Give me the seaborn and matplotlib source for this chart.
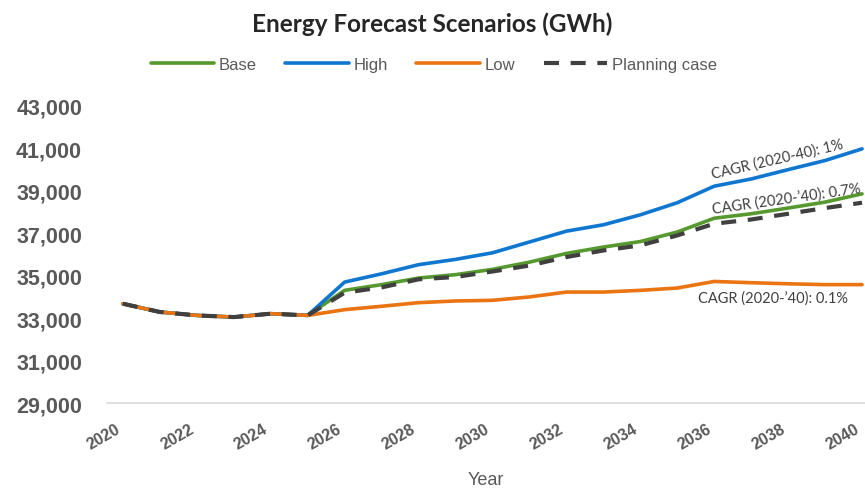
import pandas as pd
import matplotlib.pyplot as plt
import matplotlib.ticker as mticker
import matplotlib.transforms as mtransforms
import seaborn as sns

# Forecast years
years = list(range(2020, 2041))

# Energy forecasts (GWh)
base = [33680, 33290, 33130, 33050, 33210, 33130, 34310, 34580, 34890, 35050, 35300,
        35640, 36050, 36350, 36610, 37060, 37710, 37920, 38190, 38470, 38860]
high = [33680, 33290, 33130, 33050, 33210, 33130, 34700, 35090, 35520, 35770, 36080,
        36590, 37100, 37400, 37870, 38440, 39220, 39560, 40000, 40430, 40980]
low = [33680, 33290, 33130, 33050, 33210, 33130, 33400, 33560, 33730, 33810, 33840,
       34000, 34230, 34230, 34310, 34420, 34730, 34670, 34620, 34580, 34580]
planning = [33680, 33290, 33130, 33050, 33210, 33130, 34200, 34450, 34830, 34940, 35200,
            35480, 35880, 36190, 36430, 36900, 37450, 37650, 37920, 38190, 38440]

y_ticks = [29000, 31000, 33000, 35000, 37000, 39000, 41000, 43000]
x_ticks = list(range(2020, 2041, 2))

series_names = ['Base', 'High', 'Low', 'Planning case']
series_colors = ['#56992E', '#0F77CF', '#EB7412', '#404040']

# CAGR labels: text, anchor year, anchor value, rotation
cagr_labels = [
    ('CAGR (2020-40): 1%', 2037.7, 40520, 13),
    ('CAGR (2020-\u201940): 0.7%', 2037.95, 38640, 8),
    ('CAGR (2020-\u201940): 0.1%', 2037.6, 33990, 0),
]

df = pd.DataFrame({'Year': years, 'Base': base, 'High': high, 'Low': low,
                   'Planning case': planning})

sns.set_theme(style='white')
plt.rcParams['font.family'] = ['Liberation Sans', 'DejaVu Sans']

fig = plt.figure(figsize=(8.65, 4.89), dpi=100)
ax = fig.add_axes([0.1237, 0.1738, 0.8763, 0.6074])

for name, color in zip(series_names, series_colors):
    if name == 'Planning case':
        sns.lineplot(data=df, x='Year', y=name, ax=ax, color=color, linewidth=3.0,
                     label=name, dashes=False, linestyle=(0, (3.6, 2.8)), zorder=4)
    else:
        sns.lineplot(data=df, x='Year', y=name, ax=ax, color=color, linewidth=2.6,
                     label=name, zorder=3)

ax.set_xlim(2019.57, 2040.08)
ax.set_ylim(29000, 43000)
ax.set_yticks(y_ticks)
ax.set_xticks(x_ticks)
ax.yaxis.set_major_formatter(mticker.StrMethodFormatter('{x:,.0f}'))
ax.tick_params(axis='y', length=0, pad=18, labelsize=15.5, labelcolor='#595959')
ax.tick_params(axis='x', length=0, pad=13, labelsize=11.5, labelcolor='#595959')
for lbl in ax.get_yticklabels():
    lbl.set_fontweight('bold')
shift = mtransforms.ScaledTranslation(-8 / 100, 0, fig.dpi_scale_trans)
for lbl in ax.get_xticklabels():
    lbl.set_fontweight('bold')
    lbl.set_rotation(30)
    lbl.set_ha('right')
    lbl.set_va('top')
    lbl.set_rotation_mode('anchor')
    lbl.set_transform(lbl.get_transform() + shift)

for side in ['top', 'right', 'left']:
    ax.spines[side].set_visible(False)
ax.spines['bottom'].set_color('#D9D9D9')
ax.spines['bottom'].set_linewidth(1.2)

ax.set_xlabel('Year', fontsize=13, color='#595959', labelpad=14)
ax.set_ylabel('')

for text, x, y, rot in cagr_labels:
    ax.text(x, y, text, fontsize=10.5, color='#404040', ha='center', va='center',
            rotation=rot, rotation_mode='anchor', family=['Lato', 'DejaVu Sans'])

fig.suptitle('Energy Forecast Scenarios (GWh)', fontsize=17.5, fontweight='bold',
             family=['Lato', 'DejaVu Sans'], y=0.975, x=0.5)

ax.legend(loc='center', bbox_to_anchor=(0.431, 1.141), ncol=4, frameon=False,
          fontsize=12, labelcolor='#595959', handlelength=3.8, columnspacing=1.7,
          handletextpad=0.3)

fig.savefig('out.png', dpi=100)
